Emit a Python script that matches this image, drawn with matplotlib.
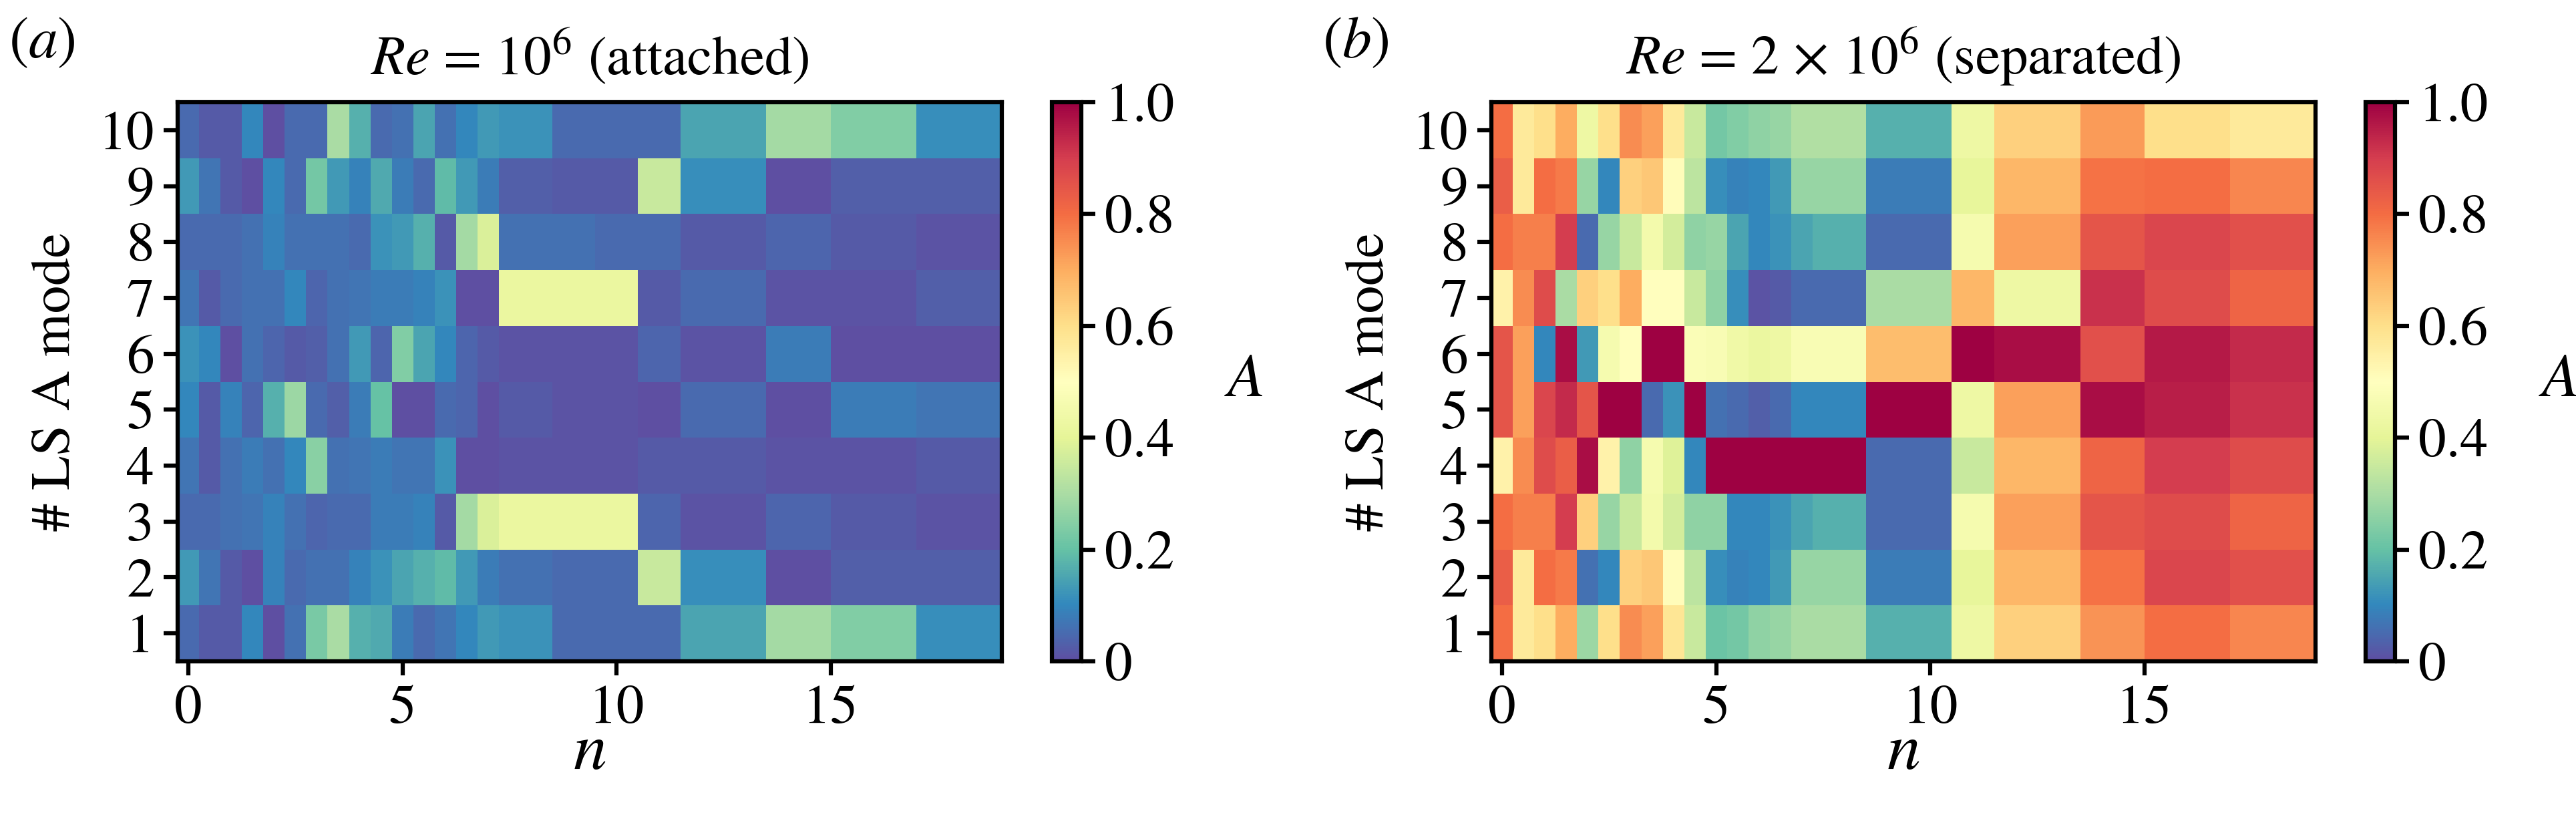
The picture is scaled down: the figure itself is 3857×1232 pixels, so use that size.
import numpy as np
import matplotlib
matplotlib.use('Agg')
import matplotlib.pyplot as plt

plt.rcParams['font.family'] = ['STIXGeneral', 'DejaVu Serif']
plt.rcParams['font.size'] = 20
plt.rcParams['mathtext.fontset'] = 'stix'
plt.rcParams['axes.linewidth'] = 1.5

# cell edges along n (narrow cells up to n = 7, wider ones after)
n_edges = [-0.25, 0.25, 0.75, 1.25, 1.75, 2.25, 2.75, 3.25, 3.75, 4.25, 4.75,
           5.25, 5.75, 6.25, 6.75, 7.25, 8.5, 9.5, 10.5, 11.5, 12.5, 13.5,
           15, 17, 19]
mode_edges = [0.5, 1.5, 2.5, 3.5, 4.5, 5.5, 6.5, 7.5, 8.5, 9.5, 10.5]
modes = [1, 2, 3, 4, 5, 6, 7, 8, 9, 10]
n_ticks = [0, 5, 10, 15]

# amplitude A, one list per LSA mode (mode 1 first)
A_attached = [
    [.05, .02, .02, .10, .00, .06, .23, .30, .17, .16, .08, .05, .07, .10, .13, .12, .05, .05, .05, .15, .15, .29, .24, .11],
    [.13, .07, .02, .00, .09, .05, .06, .06, .09, .12, .15, .17, .19, .13, .08, .06, .05, .05, .35, .11, .11, .00, .03, .03],
    [.05, .05, .06, .07, .09, .06, .04, .05, .05, .08, .08, .09, .02, .29, .38, .42, .42, .42, .04, .01, .01, .04, .02, .01],
    [.07, .02, .06, .08, .06, .10, .25, .06, .07, .08, .07, .07, .12, .00, .00, .01, .01, .01, .02, .02, .02, .01, .01, .02],
    [.10, .02, .09, .04, .17, .28, .05, .03, .08, .20, .00, .00, .05, .04, .00, .02, .01, .01, .00, .05, .05, .00, .08, .07],
    [.12, .10, .00, .06, .04, .02, .03, .06, .13, .04, .24, .15, .10, .04, .02, .01, .01, .01, .04, .01, .01, .08, .00, .00],
    [.07, .02, .05, .06, .06, .10, .04, .06, .07, .08, .08, .09, .12, .00, .00, .42, .42, .42, .02, .05, .05, .01, .01, .03],
    [.05, .05, .05, .06, .09, .06, .06, .06, .05, .12, .13, .17, .02, .29, .38, .06, .06, .05, .05, .02, .02, .04, .02, .01],
    [.13, .07, .02, .00, .10, .05, .22, .13, .09, .16, .08, .05, .19, .13, .08, .03, .02, .02, .35, .11, .11, .00, .03, .03],
    [.05, .02, .02, .10, .00, .05, .05, .30, .17, .05, .06, .15, .06, .10, .13, .12, .05, .05, .05, .15, .15, .29, .24, .11],
]

A_separated = [
    [.80, .57, .60, .70, .28, .60, .75, .72, .58, .35, .21, .22, .26, .27, .30, .30, .17, .17, .43, .63, .63, .74, .80, .76],
    [.83, .57, .80, .78, .06, .10, .63, .65, .51, .33, .11, .09, .10, .13, .27, .27, .08, .08, .41, .68, .68, .79, .88, .86],
    [.80, .77, .77, .90, .63, .27, .35, .45, .37, .26, .26, .10, .10, .12, .15, .17, .05, .05, .46, .72, .72, .85, .87, .82],
    [.54, .75, .87, .83, .98, .54, .26, .46, .39, .10, 1.0, 1.0, 1.0, 1.0, 1.0, 1.0, .05, .05, .35, .68, .68, .82, .90, .87],
    [.85, .72, .88, .93, .85, 1.0, 1.0, .05, .12, 1.0, .06, .05, .03, .05, .10, .10, 1.0, 1.0, .43, .72, .72, .98, .95, .92],
    [.85, .72, .10, .98, .13, .46, .50, 1.0, 1.0, .48, .47, .44, .42, .43, .47, .47, .67, .67, 1.0, .98, .98, .86, .96, .93],
    [.54, .75, .87, .30, .63, .60, .70, .50, .50, .35, .26, .11, .01, .02, .05, .05, .30, .30, .68, .43, .43, .92, .87, .82],
    [.80, .77, .77, .90, .05, .27, .35, .45, .37, .26, .27, .15, .10, .12, .15, .17, .05, .05, .46, .72, .72, .85, .88, .86],
    [.83, .57, .80, .78, .27, .10, .63, .65, .51, .33, .11, .09, .10, .13, .27, .27, .08, .08, .41, .68, .68, .79, .80, .76],
    [.80, .57, .60, .70, .43, .60, .75, .72, .57, .35, .22, .24, .26, .27, .31, .31, .17, .17, .43, .63, .63, .73, .60, .57],
]

cbar_ticks = [0, 0.2, 0.4, 0.6, 0.8, 1.0]
cbar_labels = ['0', '0.2', '0.4', '0.6', '0.8', '1.0']

fig = plt.figure(figsize=(3857 / 300, 1232 / 300), dpi=300)


def draw_panel(ax_rect, cax_rect, data, title, tag):
    ax = fig.add_axes(ax_rect)
    cax = fig.add_axes(cax_rect)
    mesh = ax.pcolormesh(n_edges, mode_edges, np.array(data),
                         cmap='Spectral_r', vmin=0, vmax=1)
    ax.set_yticks(modes)
    ax.set_xticks(n_ticks)
    ax.tick_params(direction='out', length=5, width=1.5)
    ax.set_xlabel('$n$', fontsize=24, labelpad=-4)
    ax.set_ylabel('# LS A mode', fontsize=20, labelpad=6)
    ax.set_title(title, fontsize=20, pad=10)
    ax.text(-0.205, 1.08, tag, transform=ax.transAxes, fontsize=21,
            ha='left', va='baseline')

    cb = fig.colorbar(mesh, cax=cax)
    cb.set_ticks(cbar_ticks)
    cb.set_ticklabels(cbar_labels)
    cb.outline.set_linewidth(1.5)
    cb.ax.tick_params(length=5, width=1.5)
    cb.set_label('$A$', fontsize=22, rotation=0, labelpad=18,
                 va='center', ha='left')
    return ax


draw_panel([0.0690, 0.1964, 0.3199, 0.6794], [0.4083, 0.1964, 0.0114, 0.6794],
           A_attached, r'$Re$ = 10$^6$ (attached)', '($a$)')
draw_panel([0.5790, 0.1964, 0.3199, 0.6794], [0.9183, 0.1964, 0.0114, 0.6794],
           A_separated, r'$Re$ = 2 × 10$^6$ (separated)', '($b$)')

fig.savefig('out.png', dpi=300)
